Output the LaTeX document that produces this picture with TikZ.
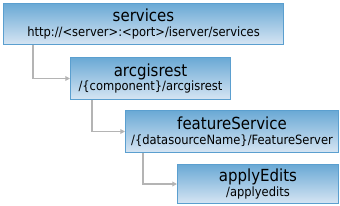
\documentclass[tikz,border=0pt]{standalone}
\usepackage{fontspec}
\setmainfont{DejaVu Sans Condensed}
\usetikzlibrary{arrows.meta}
\definecolor{boxtop}{HTML}{6AA9D5}
\definecolor{boxbot}{HTML}{D6E5F3}
\definecolor{boxline}{HTML}{5B9FCF}
\definecolor{connline}{HTML}{B4B4B4}
\tikzset{
  restbox/.style={draw=boxline, line width=0.75pt, top color=boxtop, bottom color=boxbot,
    anchor=north west, inner sep=0pt, align=center, font=\fontsize{12.5}{12.5}\selectfont},
  conn/.style={draw=connline, line width=1.1pt, -{Triangle[length=3.5pt,width=3.5pt]}},
}
\newcommand{\subline}[1]{\\[-1.5pt]{\fontsize{9.6}{10}\selectfont #1}}
\begin{document}
\begin{tikzpicture}[x=0.75pt,y=-0.75pt]
\useasboundingbox (0,0) rectangle (340,205);

\node[restbox, minimum width=210pt, minimum height=30.75pt] (svc) at (3,3)
  {services\subline{http://<server>:<port>/iserver/services}};
\node[restbox, minimum width=120pt, minimum height=31.5pt] (arc) at (70,57)
  {arcgisrest\subline{/\{component\}/arcgisrest}};
\node[restbox, minimum width=159.75pt, minimum height=31.5pt] (fs) at (125,110)
  {featureService\subline{/\{datasourceName\}/FeatureServer}};
\node[restbox, minimum width=120.75pt, minimum height=29.25pt] (ae) at (177,164)
  {applyEdits\subline{/applyedits}};

\draw[conn] ([xshift=22.5pt]svc.south west) |- (arc.west);
\draw[conn] ([xshift=16.5pt]arc.south west) |- (fs.west);
\draw[conn] ([xshift=13.5pt]fs.south west) |- (ae.west);
\end{tikzpicture}
\end{document}
